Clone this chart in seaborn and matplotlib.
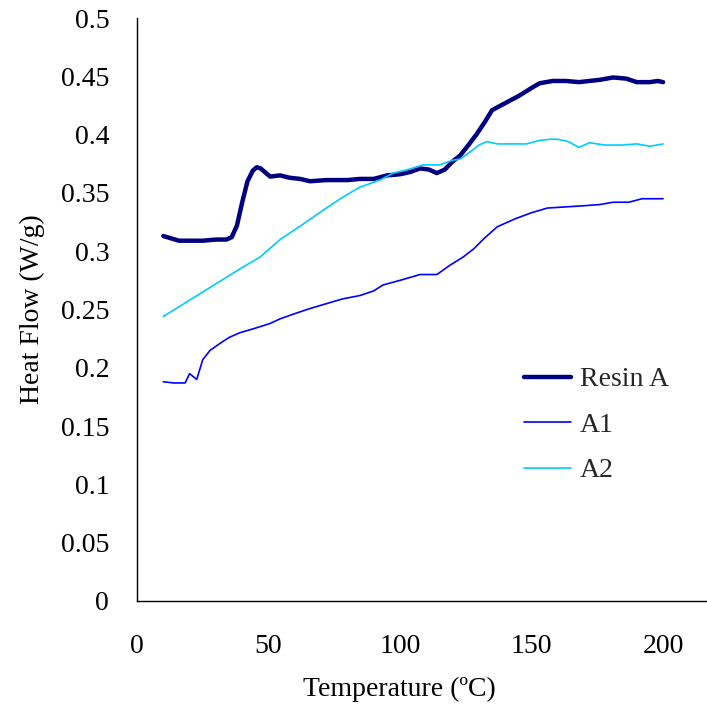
import matplotlib
matplotlib.use("Agg")
import matplotlib.pyplot as plt
import seaborn as sns
import pandas as pd

# DSC heat-flow traces
resin_t = [10, 13, 16, 20, 25, 30, 34, 36, 38, 40, 42, 44, 45.5, 47, 50.6, 54.4, 58, 62, 65.8, 72, 80,
           84.8, 90, 95, 100, 104, 107.6, 111, 114, 117, 120, 122.8, 126, 129, 132, 135, 140, 145,
           150, 153, 158, 163, 168, 172, 176, 181, 186, 190, 195, 198, 200]
resin_y = [0.313, 0.311, 0.309, 0.309, 0.309, 0.310, 0.310, 0.312, 0.322, 0.342, 0.360, 0.369, 0.372,
           0.371, 0.364, 0.365, 0.363, 0.362, 0.360, 0.361, 0.361, 0.362, 0.362, 0.365, 0.366, 0.368,
           0.371, 0.370, 0.367, 0.370, 0.377, 0.382, 0.391, 0.400, 0.410, 0.421, 0.427, 0.433,
           0.440, 0.444, 0.446, 0.446, 0.445, 0.446, 0.447, 0.449, 0.448, 0.445, 0.445, 0.446, 0.445]

a1_t = [10, 14, 18.3, 20, 22.7, 25, 27.8, 31.6, 35, 39, 45, 50.6, 54.4, 59.4, 66, 72, 78, 84.8,
        90, 93.5, 100, 107.6, 114, 119, 124, 128, 132, 137, 144, 150, 156, 163, 170, 176, 181,
        187, 192, 196, 200]
a1_y = [0.188, 0.187, 0.187, 0.195, 0.190, 0.207, 0.215, 0.221, 0.226, 0.230, 0.234, 0.238, 0.242,
        0.246, 0.251, 0.255, 0.259, 0.262, 0.266, 0.271, 0.275, 0.280, 0.280, 0.288, 0.295, 0.302,
        0.311, 0.321, 0.328, 0.333, 0.337, 0.338, 0.339, 0.340, 0.342, 0.342, 0.345, 0.345, 0.345]

a2_t = [10, 20, 30, 40, 46.8, 54.4, 63, 72, 78, 84.8, 92.4, 97.4, 103, 108.7, 115, 120, 122.8, 126,
        130, 133, 137, 142, 148, 153, 157, 160, 164, 168, 172, 178, 184, 190, 195, 200]
a2_y = [0.244, 0.258, 0.272, 0.286, 0.295, 0.310, 0.323, 0.337, 0.346, 0.355, 0.361, 0.367, 0.370,
        0.374, 0.374, 0.378, 0.379, 0.384, 0.391, 0.394, 0.392, 0.392, 0.392, 0.395, 0.396, 0.396,
        0.394, 0.389, 0.393, 0.391, 0.391, 0.392, 0.390, 0.392]

series_names = ["Resin A", "A1", "A2"]
series_colors = ["#000080", "#0000FF", "#00CCFF"]
series_widths = [3.2, 1.2, 1.2]

frames = [
    pd.DataFrame({"Temperature": resin_t, "Heat Flow": resin_y, "Sample": "Resin A"}),
    pd.DataFrame({"Temperature": a1_t, "Heat Flow": a1_y, "Sample": "A1"}),
    pd.DataFrame({"Temperature": a2_t, "Heat Flow": a2_y, "Sample": "A2"}),
]
df = pd.concat(frames, ignore_index=True)

sns.set_style("white")
plt.rcParams["font.family"] = ["Liberation Serif", "DejaVu Serif"]

fig = plt.figure(figsize=(7.07, 7.08), dpi=100)
ax = fig.add_axes([137 / 707, 1 - 601 / 708, 1 - 137 / 707, (601 - 18) / 708])

for name, color, lw in zip(series_names, series_colors, series_widths):
    sub = df[df["Sample"] == name]
    sns.lineplot(data=sub, x="Temperature", y="Heat Flow", ax=ax, color=color,
                 linewidth=lw, sort=False, estimator=None, label=name)

ax.set_xlim(0, 216.7)
ax.set_ylim(0, 0.5)
ax.set_xticks([0, 50, 100, 150, 200])
ax.set_yticks([i * 0.05 for i in range(11)])
ax.set_yticklabels(["0", "0.05", "0.1", "0.15", "0.2", "0.25", "0.3", "0.35", "0.4", "0.45", "0.5"])

for side in ["top", "right"]:
    ax.spines[side].set_visible(False)
for side in ["left", "bottom"]:
    ax.spines[side].set_color("black")
    ax.spines[side].set_linewidth(1.0)

ax.tick_params(axis="both", direction="in", length=6, width=1, color="black",
               labelsize=20, labelcolor="black")
ax.tick_params(axis="y", pad=20)
ax.tick_params(axis="x", pad=24)

ax.set_xlabel("Temperature (ºC)", fontsize=20, color="black")
ax.set_ylabel("Heat Flow (W/g)", fontsize=20, color="black")
ax.xaxis.set_label_coords((399 - 137) / 570, -(677 - 601) / 583)
ax.yaxis.set_label_coords(-(137 - 45) / 570, 0.5)

leg = ax.legend(loc="upper left", bbox_to_anchor=((524 - 137) / 570, (601 - 367) / 583),
                frameon=False, fontsize=20, handlelength=1.7, handletextpad=0.3,
                labelspacing=0.72, borderaxespad=0, borderpad=0)

fig.savefig("out.png", dpi=100)
